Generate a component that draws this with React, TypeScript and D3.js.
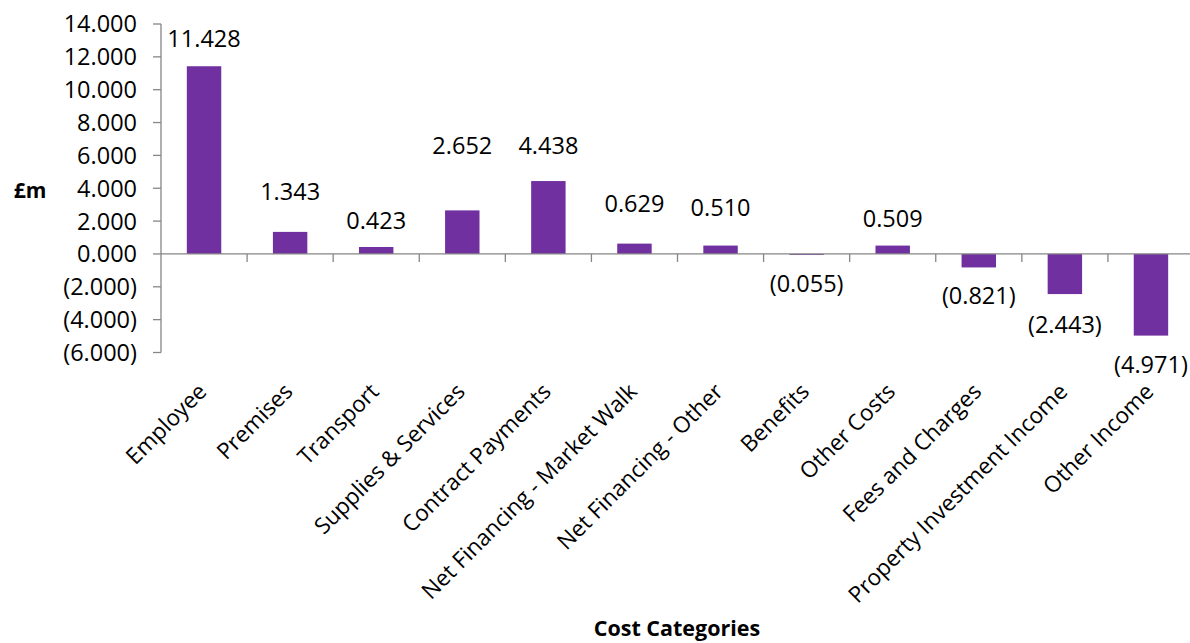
import React from "react";
import * as d3 from "d3";

const categories = [
  "Employee",
  "Premises",
  "Transport",
  "Supplies & Services",
  "Contract Payments",
  "Net Financing - Market Walk",
  "Net Financing - Other",
  "Benefits",
  "Other Costs",
  "Fees and Charges",
  "Property Investment Income",
  "Other Income",
];
const values = [11.428, 1.343, 0.423, 2.652, 4.438, 0.629, 0.51, -0.055, 0.509, -0.821, -2.443, -4.971];
const yTicks = [14, 12, 10, 8, 6, 4, 2, 0, -2, -4, -6];
// distance (px) between bar end and the value label baseline, as placed in the original
const labelGap = [19, 32, 18, 56, 27, 32, 30, 37, 19, 37, 39, 37];

const W = 1190;
const H = 643;
const FONT = "'Open Sans', sans-serif";
const AXIS = "#868686";
const BAR = "#7030A0";

const fmt = (v: number) => {
  const s = d3.format(".3f")(Math.abs(v));
  return v < 0 ? `(${s})` : s;
};

export default function App() {
  const x = d3.scaleBand<string>().domain(categories).range([161, 1194]).padding(0);
  const y = d3.scaleLinear().domain([-6, 14]).range([352.5, 24]);
  const bw = x.bandwidth() * 0.4;
  const y0 = y(0);

  return (
    <svg
      width={W}
      height={H}
      style={{ position: "absolute", left: 0, top: 0, background: "#fff" }}
      fontFamily={FONT}
    >
      {/* y axis */}
      <line x1={161} x2={161} y1={y(14)} y2={y(-6)} stroke={AXIS} strokeWidth={1.3} />
      {yTicks.map((t) => (
        <g key={t}>
          <line x1={153} x2={161} y1={y(t)} y2={y(t)} stroke={AXIS} strokeWidth={1.3} />
          <text x={137} y={y(t)} dy="0.36em" textAnchor="end" fontSize={23.5} fill="#000">
            {fmt(t)}
          </text>
        </g>
      ))}
      {/* bars */}
      {categories.map((c, i) => {
        const v = values[i];
        const cx = (x(c) as number) + x.bandwidth() / 2;
        return (
          <rect
            key={c}
            x={cx - bw / 2}
            y={Math.min(y(v), y0)}
            width={bw}
            height={Math.abs(y(v) - y0)}
            fill={BAR}
          />
        );
      })}
      {/* x axis at zero */}
      <line x1={161} x2={W} y1={y0} y2={y0} stroke={AXIS} strokeWidth={1.3} />
      {categories.map((c, i) =>
        i === 0 ? null : (
          <line
            key={"t" + c}
            x1={x(c) as number}
            x2={x(c) as number}
            y1={y0}
            y2={y0 + 8}
            stroke={AXIS}
            strokeWidth={1.3}
          />
        )
      )}
      {/* value labels */}
      {categories.map((c, i) => {
        const v = values[i];
        const cx = (x(c) as number) + x.bandwidth() / 2;
        const ly = v >= 0 ? y(v) - labelGap[i] : y(v) + labelGap[i];
        return (
          <text key={"v" + c} x={cx} y={ly} textAnchor="middle" fontSize={23.5} fill="#000">
            {fmt(v)}
          </text>
        );
      })}
      {/* category labels */}
      {categories.map((c) => {
        const cx = (x(c) as number) + x.bandwidth() / 2;
        return (
          <text
            key={"c" + c}
            transform={`translate(${cx + 4},${393}) rotate(-45)`}
            textAnchor="end"
            fontSize={22.5}
            fill="#000"
          >
            {c}
          </text>
        );
      })}
      <text x={30} y={198} textAnchor="middle" fontSize={21} fontWeight="bold" fill="#000">
        £m
      </text>
      <text x={677} y={636} textAnchor="middle" fontSize={21.5} fontWeight="bold" fill="#000">
        Cost Categories
      </text>
    </svg>
  );
}
